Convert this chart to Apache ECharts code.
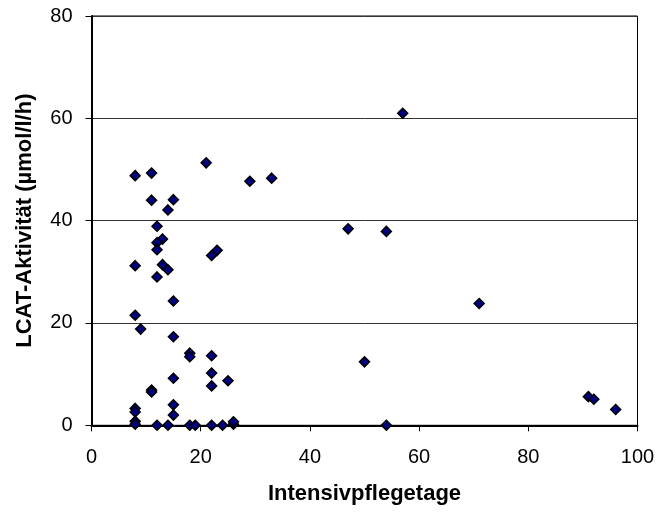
<!DOCTYPE html>
<html>
<head>
<meta charset="utf-8">
<script src="https://cdn.jsdelivr.net/npm/echarts@6/dist/echarts.min.js"></script>
<style>
  html, body { margin: 0; padding: 0; background: #fff; }
  #chart { width: 658px; height: 512px; }
</style>
</head>
<body>
<div id="chart"></div>
<script>
// Intensivpflegetage (x) vs LCAT-Aktivität (y)
const days = [8, 11, 21, 11, 15, 14, 12, 13, 12, 12, 22, 23, 8, 13, 14, 12, 15, 8, 9, 15,
  18, 18, 22, 22, 22, 25, 15, 11, 11, 8, 8, 15, 15, 8, 8, 12, 14, 18, 19, 22,
  24, 26, 26, 29, 33, 57, 47, 54, 71, 50, 54, 91, 92, 96]
const lcat = [48.8, 49.3, 51.3, 44.0, 44.1, 42.1, 38.9, 36.4, 35.7, 34.3, 33.2, 34.2, 31.2, 31.4, 30.4, 29.0, 24.3, 21.5, 18.8, 17.3,
  14.1, 13.4, 13.6, 10.2, 7.7, 8.7, 9.2, 6.9, 6.5, 3.3, 2.6, 4.0, 2.0, 0.8, 0.2, 0, 0, 0, 0, 0,
  0, 0.2, 0.7, 47.7, 48.3, 61.0, 38.4, 37.9, 23.8, 12.4, 0, 5.6, 5.1, 3.1]
const xTicks = [0, 20, 40, 60, 80, 100]
const yTicks = [0, 20, 40, 60, 80]

const font = 'Liberation Sans, Arial, sans-serif'
const points = days.map((d, i) => [d, lcat[i]])

const chart = echarts.init(document.getElementById('chart'))
chart.setOption({
  animation: false,
  grid: {
    left: 91.5,
    right: 20.5,
    top: 16,
    bottom: 86.7,
    show: true,
    borderColor: '#000',
    borderWidth: 1
  },
  xAxis: {
    type: 'value',
    min: xTicks[0],
    max: xTicks[xTicks.length - 1],
    interval: 20,
    name: 'Intensivpflegetage',
    nameLocation: 'middle',
    nameGap: 58,
    nameTextStyle: { fontFamily: font, fontSize: 22, fontWeight: 'bold', color: '#000' },
    axisLine: { lineStyle: { color: '#000', width: 2 } },
    axisTick: { show: true, length: 6, lineStyle: { color: '#000' } },
    axisLabel: { fontFamily: font, fontSize: 20, color: '#000', margin: 22 },
    splitLine: { show: false }
  },
  yAxis: {
    type: 'value',
    min: yTicks[0],
    max: yTicks[yTicks.length - 1],
    interval: 20,
    name: 'LCAT-Aktivität (µmol/l/h)',
    nameLocation: 'middle',
    nameGap: 56,
    nameTextStyle: { fontFamily: font, fontSize: 22, fontWeight: 'bold', color: '#000' },
    axisLine: { show: true, lineStyle: { color: '#000', width: 2 } },
    axisTick: { show: true, length: 6, lineStyle: { color: '#000' } },
    axisLabel: { fontFamily: font, fontSize: 20, color: '#000', margin: 19 },
    splitLine: { show: true, lineStyle: { color: '#333', width: 1 } }
  },
  series: [{
    type: 'scatter',
    data: points,
    symbol: 'diamond',
    symbolSize: 10,
    itemStyle: {
      color: '#000080',
      borderColor: '#000',
      borderWidth: 1.5,
      opacity: 1
    }
  }]
})
</script>
</body>
</html>
